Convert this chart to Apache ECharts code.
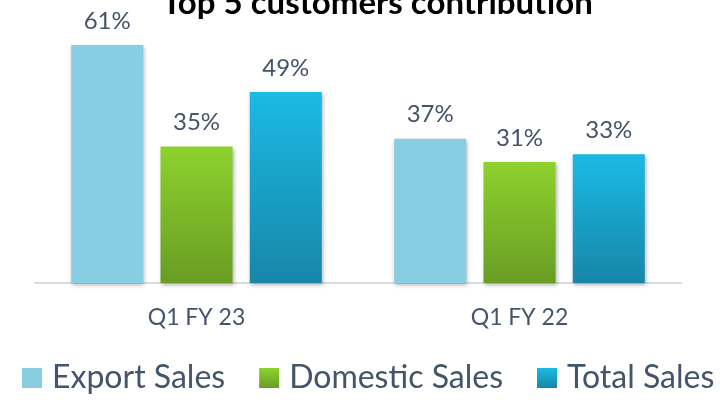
<!DOCTYPE html>
<html>
<head>
<meta charset="utf-8">
<script src="https://cdn.jsdelivr.net/npm/echarts@6/dist/echarts.min.js"></script>
<style>html,body{margin:0;padding:0;background:#fff}#c{width:720px;height:400px}</style>
</head>
<body>
<div id="c"></div>
<script>
var titleText = 'Top 5 customers contribution';
var categories = ['Q1 FY 23', 'Q1 FY 22'];
var seriesNames = ['Export Sales', 'Domestic Sales', 'Total Sales'];
var exportSales = [61, 37];
var domesticSales = [35, 31];
var totalSales = [49, 33];

var FONT = 'Lato';
var TXT = '#44546a';
function grad(top, bottom) {
  return new echarts.graphic.LinearGradient(0, 0, 0, 1, [
    {offset: 0, color: top}, {offset: 1, color: bottom}
  ]);
}
var colors = [
  '#87cee3',
  grad('#8dd22e', '#699c23'),
  grad('#1bbae4', '#1786a8')
];
var values = [exportSales, domesticSales, totalSales];

var chart = echarts.init(document.getElementById('c'), null, {renderer: 'canvas'});
chart.setOption({
  animation: false,
  title: {
    text: titleText, left: 157, top: -18,
    textStyle: {fontFamily: FONT, fontWeight: 'bold', fontSize: 33, color: '#000'}
  },
  legend: {
    bottom: 1, left: 17, itemWidth: 20, itemHeight: 20, itemGap: 34,
    icon: 'rect',
    textStyle: {fontFamily: FONT, fontSize: 32, color: TXT, padding: [0, 0, 0, 5]},
    data: seriesNames
  },
  grid: {left: 35, right: 39, top: 10, bottom: 117, containLabel: false},
  xAxis: {
    type: 'category', data: categories,
    axisLine: {lineStyle: {color: '#d9dde2', width: 2}},
    axisTick: {show: false},
    axisLabel: {fontFamily: FONT, fontSize: 23, color: TXT, margin: 23}
  },
  yAxis: {type: 'value', min: 0, max: 70, show: false, splitLine: {show: false}},
  series: seriesNames.map(function (n, i) {
    return {
      name: n, type: 'bar', data: values[i], barWidth: 72, barGap: '24%',
      itemStyle: {color: colors[i], shadowBlur: 4, shadowColor: 'rgba(0,0,0,0.3)', shadowOffsetX: 1, shadowOffsetY: 2},
      label: {show: true, position: 'top', distance: 12, formatter: '{c}%',
        fontFamily: FONT, fontSize: 24, color: TXT}
    };
  })
});
</script>
</body>
</html>
